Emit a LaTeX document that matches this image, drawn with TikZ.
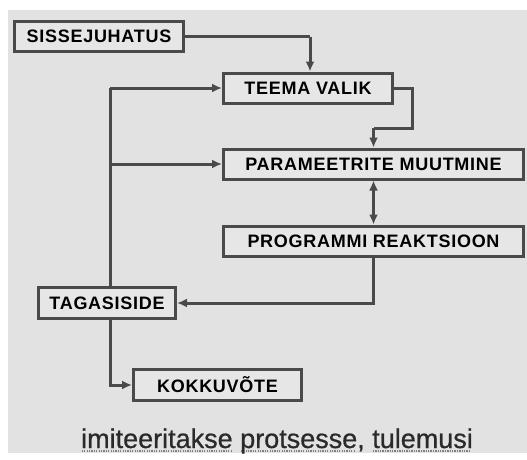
\documentclass[tikz,border=0pt]{standalone}
\usepackage{fontspec}
\setmainfont{Liberation Sans}
\newfontfamily\boxfont[LetterSpace=4]{Liberation Sans}
\newfontfamily\capfont[FakeBold=0.7]{Liberation Sans}
\usetikzlibrary{arrows.meta}
\definecolor{paper}{HTML}{E2E2E2}
\definecolor{boxfill}{HTML}{E6E6E6}
\definecolor{wire}{HTML}{4A4A4A}
\definecolor{captext}{HTML}{2A2A2A}
% word with a grey dotted underline
\newsavebox\wordbox
\newcommand\dotword[1]{\sbox\wordbox{#1}%
  \rlap{\color{gray}\leaders\hbox to 2.4pt{\hss\rule[-3.5pt]{1.3pt}{1.3pt}\hss}\hskip\wd\wordbox}%
  \usebox\wordbox}
\begin{document}
\begin{tikzpicture}[x=1pt,y=-1pt,
  stepbox/.style={draw=wire, line width=3pt, fill=boxfill, inner sep=0pt,
    minimum height=30pt, font=\boxfont\fontsize{18}{18}\selectfont\bfseries, text=black},
  arr/.style={draw=wire, line width=3pt, -{Latex[length=10pt,width=9pt]}},
  link/.style={draw=wire, line width=3pt}]
  \useasboundingbox (0,0) rectangle (527,459);
  \fill[white] (0,0) rectangle (527,459);
  \fill[paper] (8,10) rectangle (527,453);

  \node[stepbox, minimum width=169pt] (sis)   at (99,36.5)   {SISSEJUHATUS};
  \node[stepbox, minimum width=169pt] (teema) at (308,88)    {TEEMA VALIK};
  \node[stepbox, minimum width=300pt] (param) at (373.5,164) {PARAMEETRITE MUUTMINE};
  \node[stepbox, minimum width=300pt] (prog)  at (373.5,241) {PROGRAMMI REAKTSIOON};
  \node[stepbox, minimum width=137pt, minimum height=31pt] (taga)  at (107,303)   {TAGASISIDE};
  \node[stepbox, minimum width=168pt, minimum height=31pt] (kokku) at (217.5,385) {KOKKUVÕTE};

  \node[anchor=base, text=captext, font=\capfont\fontsize{27}{27}\selectfont] (cap) at (277,448)
    {\dotword{imiteeritakse} \dotword{protsesse}, \dotword{tulemusi}};

  % connectors
  \coordinate (t1) at (310,36.5);
  \coordinate (bend) at (412,128);
  \coordinate (trunk) at (110,303);
  \draw[link] (sis.east) -- (t1);
  \draw[arr] (t1) -- (t1 |- teema.north);
  \draw[link] (trunk |- taga.north) -- (trunk |- teema.west);
  \draw[arr] (trunk |- teema.west) -- (teema.west);
  \draw[arr] (trunk |- param.west) -- (param.west);
  \draw[link] (teema.east) -| (bend) -- (bend -| param.north);
  \draw[arr] (bend -| param.north) -- (param.north);
  \draw[draw=wire, line width=3pt, {Latex[length=10pt,width=9pt]}-{Latex[length=10pt,width=9pt]}] (param.south) -- (prog.south |- prog.north);
  \draw[arr] (prog.south) |- (taga.east);
  \draw[arr] (trunk |- taga.south) |- (kokku.west);
\end{tikzpicture}
\end{document}
